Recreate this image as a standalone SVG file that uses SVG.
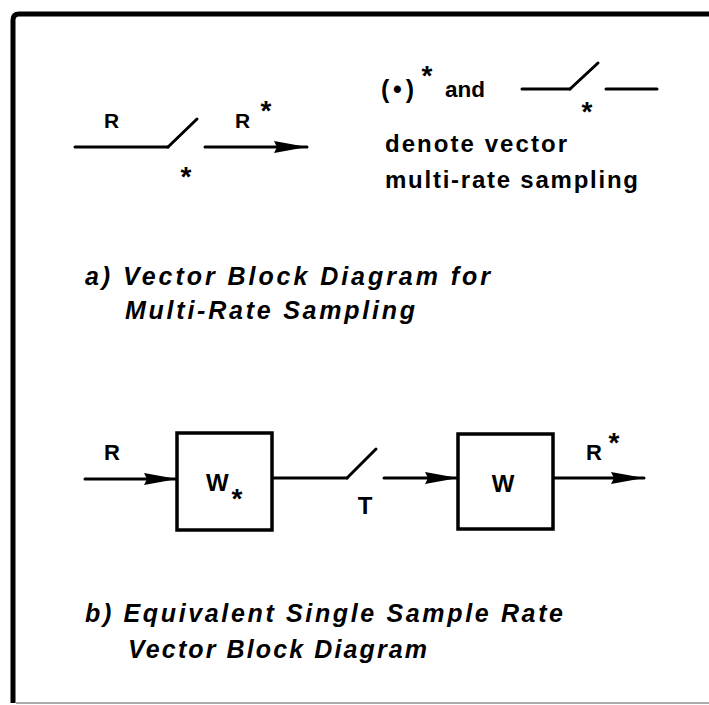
<svg xmlns="http://www.w3.org/2000/svg" width="709" height="705" viewBox="0 0 709 705">
<defs>
<style>
.ln{stroke:#000;stroke-width:3;fill:none;stroke-linecap:round}
.box{stroke:#000;stroke-width:3.5;fill:#fff}
.t{font-family:"Liberation Sans",Arial,sans-serif;font-weight:bold;fill:#000}
.cap{font-family:"Liberation Sans",Arial,sans-serif;font-weight:bold;font-style:italic;font-size:25px;fill:#000}
</style>
<marker id="ah" markerUnits="userSpaceOnUse" markerWidth="36" markerHeight="16" refX="33" refY="8" orient="auto">
<path d="M0,2 L33,8 L0,14 L3,8 Z" fill="#000"/>
</marker>
</defs>
<rect width="709" height="705" fill="#fff"/>
<g id="frame">
<path d="M13,703 L13,20 Q13,14 19,14 L709,14" stroke="#000" stroke-width="5" fill="none"/>
<line x1="16" y1="703" x2="709" y2="703" stroke="#aaa" stroke-width="2"/>
</g>
<g id="connectors">
<line class="ln" x1="75" y1="147" x2="168" y2="147"/>
<line class="ln" x1="168" y1="147" x2="197" y2="119"/>
<line class="ln" x1="205" y1="147" x2="307" y2="147" marker-end="url(#ah)"/>
<line class="ln" x1="522" y1="89" x2="570" y2="89"/>
<line class="ln" x1="570" y1="89" x2="598" y2="63"/>
<line class="ln" x1="606" y1="89" x2="657" y2="89"/>
<line class="ln" x1="85" y1="479" x2="177" y2="479" marker-end="url(#ah)"/>
<line class="ln" x1="272" y1="478" x2="347" y2="478"/>
<line class="ln" x1="347" y1="478" x2="376" y2="449"/>
<line class="ln" x1="384" y1="478" x2="458" y2="478" marker-end="url(#ah)"/>
<line class="ln" x1="553" y1="478" x2="644" y2="478" marker-end="url(#ah)"/>
</g>
<g id="part-a">
<text class="t" x="104" y="128" font-size="21">R</text>
<text class="t" x="186" y="186" font-size="28" text-anchor="middle">*</text>
<text class="t" x="235" y="128" font-size="21">R</text>
<text class="t" x="266" y="120" font-size="28" text-anchor="middle">*</text>
<text class="t" x="381" y="98" font-size="25" textLength="33" lengthAdjust="spacing">(•)</text>
<text class="t" x="427" y="85" font-size="28" text-anchor="middle">*</text>
<text class="t" x="445" y="97" font-size="22" textLength="40" lengthAdjust="spacingAndGlyphs">and</text>
<text class="t" x="587" y="121" font-size="28" text-anchor="middle">*</text>
<text class="t" x="385" y="152" font-size="24" textLength="182" lengthAdjust="spacing">denote vector</text>
<text class="t" x="385" y="188" font-size="24" textLength="253" lengthAdjust="spacing">multi-rate sampling</text>
<text class="cap" x="85" y="285" textLength="405" lengthAdjust="spacing">a) Vector Block Diagram for</text>
<text class="cap" x="125" y="319" textLength="290" lengthAdjust="spacing">Multi-Rate Sampling</text>
</g>
<g id="node-Wstar">
<rect class="box" x="177" y="433" width="95" height="97"/>
<text class="t" x="206" y="491" font-size="24">W</text>
<text class="t" x="237" y="508" font-size="28" text-anchor="middle">*</text>
</g>
<g id="node-W">
<rect class="box" x="458" y="434" width="95" height="95"/>
<text class="t" x="503" y="492" font-size="24" text-anchor="middle">W</text>
</g>
<g id="part-b">
<text class="t" x="104" y="460" font-size="22">R</text>
<text class="t" x="365" y="514" font-size="24" text-anchor="middle">T</text>
<text class="t" x="586" y="460" font-size="22">R</text>
<text class="t" x="614" y="452" font-size="28" text-anchor="middle">*</text>
<text class="cap" x="85" y="622" textLength="478" lengthAdjust="spacing">b) Equivalent Single Sample Rate</text>
<text class="cap" x="128" y="658" textLength="299" lengthAdjust="spacing">Vector Block Diagram</text>
</g>
</svg>
